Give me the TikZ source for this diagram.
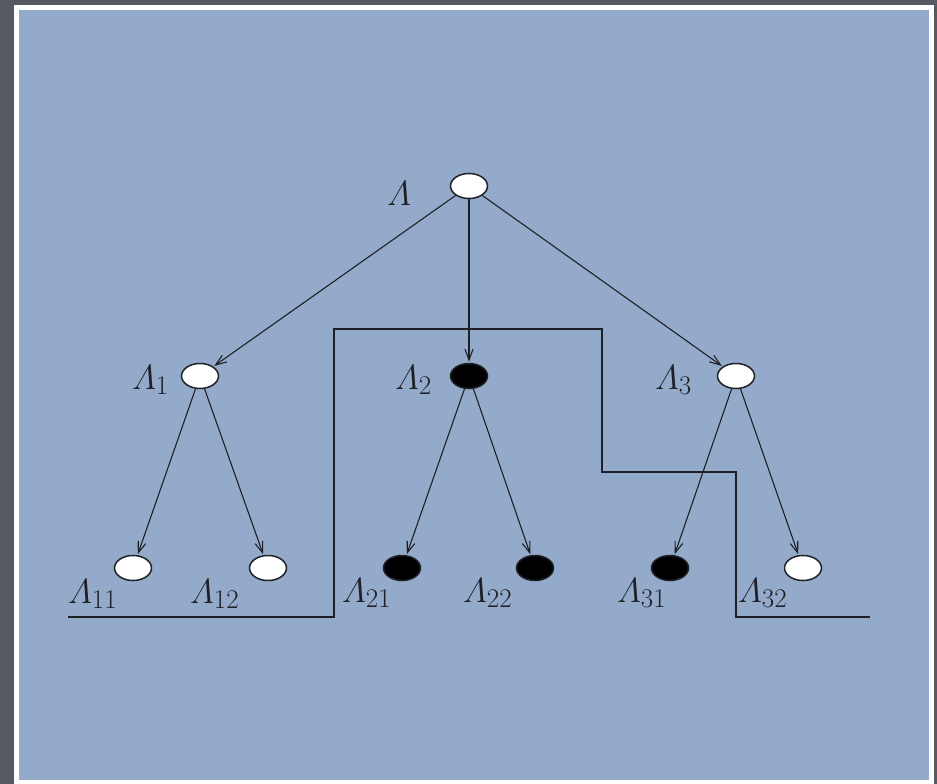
\RequirePackage{fix-cm}
\documentclass[tikz,border=0pt]{standalone}
\usepackage{amsmath}
\usetikzlibrary{arrows.meta,shapes.geometric}
\DeclareMathSizes{35}{35}{27}{20}
\definecolor{outerbg}{RGB}{86,89,97}
\definecolor{panelbg}{RGB}{148,170,203}
\definecolor{ink}{RGB}{30,32,38}
\begin{document}
\begin{tikzpicture}[x=1pt,y=-1pt,
  vtx/.style={ellipse,draw=ink,line width=1.5pt,minimum width=37pt,minimum height=25pt,inner sep=0pt},
  wv/.style={vtx,fill=white},
  bv/.style={vtx,fill=black},
  lab/.style={font=\fontsize{35}{40}\selectfont,text=ink,inner sep=0pt,anchor=base west},
  arr/.style={-{Straight Barb[length=11pt,width=8pt]},line width=1.1pt,draw=ink,shorten >=1pt},
  cutline/.style={line width=2.6pt,draw=ink}]
\useasboundingbox (0,0) rectangle (937,784);
\fill[outerbg] (0,0) rectangle (937,784);
\fill[white] (14,5) rectangle (934,784);
\fill[panelbg] (19,10) rectangle (929,780);
% vertices
\node[wv] (r) at (469,186) {};
\node[wv] (a1) at (200,376) {};
\node[bv] (a2) at (469,376) {};
\node[wv] (a3) at (736,376) {};
\node[wv] (a11) at (133,568) {};
\node[wv] (a12) at (268,568) {};
\node[bv] (a21) at (402,568) {};
\node[bv] (a22) at (535,568) {};
\node[bv] (a31) at (670,568) {};
\node[wv] (a32) at (803,568) {};
% labels
\node[lab] (lr) at (387,205) {$\varLambda$};
\node[lab] (l1) at (132,389) {$\varLambda_1$};
\node[lab] (l2) at (395,389) {$\varLambda_2$};
\node[lab] (l3) at (655,389) {$\varLambda_3$};
\node[lab] (l11) at (68,603) {$\varLambda_{11}$};
\node[lab] (l12) at (190,603) {$\varLambda_{12}$};
\node[lab] (l21) at (342,602) {$\varLambda_{21}$};
\node[lab] (l22) at (463,602) {$\varLambda_{22}$};
\node[lab] (l31) at (617,602) {$\varLambda_{31}$};
\node[lab] (l32) at (738,602) {$\varLambda_{32}$};
% cut line
\coordinate (c0) at (68,617);
\coordinate (c1) at (334,617);
\coordinate (c2) at (334,329);
\coordinate (c3) at (602,329);
\coordinate (c4) at (602,472);
\coordinate (c5) at (736,472);
\coordinate (c6) at (736,617);
\coordinate (c7) at (870,617);
\draw[cutline] (c0) -- (c1) -- (c2) -- (c3) -- (c4) -- (c5) -- (c6) -- (c7);
% arrows
\draw[arr] (r) -- (a1);
\draw[arr] (r) -- (a2);
\draw[arr] (r) -- (a3);
\draw[arr] (a1) -- (a11);
\draw[arr] (a1) -- (a12);
\draw[arr] (a2) -- (a21);
\draw[arr] (a2) -- (a22);
\draw[arr] (a3) -- (a31);
\draw[arr] (a3) -- (a32);
\end{tikzpicture}
\end{document}
